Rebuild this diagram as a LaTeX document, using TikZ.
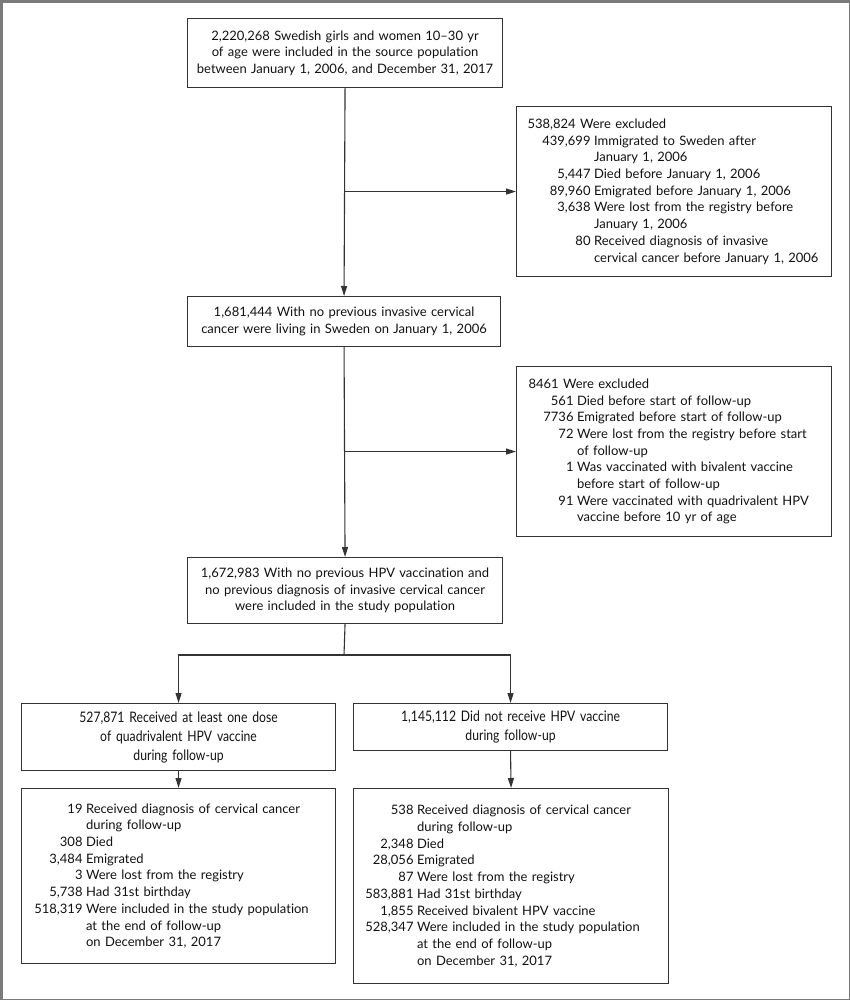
\documentclass[tikz,border=0pt]{standalone}
\usepackage{fontspec}
\setmainfont[Ligatures={NoCommon,TeX}]{Lato}
\newfontfamily\condfont[FakeStretch=0.84,Ligatures={NoCommon,TeX}]{Lato}
\usetikzlibrary{arrows.meta}
\definecolor{linec}{HTML}{333333}
\definecolor{framec}{HTML}{7A7A7A}
\definecolor{txtc}{HTML}{111111}
\newcommand\ent[3]{\mbox{\makebox[#1][r]{#2}\hspace{3.5pt}#3}}
\newcommand\cnt[2]{\mbox{\makebox[#1]{}\hspace{3.5pt}#2}}
\newcommand\mainfs{\fontsize{13}{16.7}\selectfont}
\newcommand\condfs{\condfont\fontsize{14.5}{19}\selectfont}
\begin{document}
\begin{tikzpicture}[x=1pt,y=-1pt,
  box/.style={draw=linec, line width=1.1pt, inner sep=0pt, anchor=north west,
    font=\mainfs, text=txtc},
  cbox/.style={box, align=center},
  lbox/.style={box, align=left},
  conn/.style={draw=linec, line width=1.1pt},
  arr/.style={conn, -{Triangle[length=10pt,width=6pt]}}]
\useasboundingbox (0,0) rectangle (850,1000);
\draw[framec, line width=1.5pt] (0.75,0.75) rectangle (849.25,999.25);
\draw[framec, line width=3pt] (0,1.5) -- (850,1.5);
\draw[framec, line width=3pt] (1.5,0) -- (1.5,1000);
% main column
\node[cbox, minimum width=315pt, minimum height=69pt, text width=300pt] (b1) at (187,18)
  {2,220,268 Swedish girls and women 10--30 yr\\of age were included in the source population\\between January 1, 2006, and December 31, 2017};
\node[cbox, minimum width=313pt, minimum height=50pt, text width=300pt] (b2) at (187,296)
  {1,681,444 With no previous invasive cervical\\cancer were living in Sweden on January 1, 2006};
\node[cbox, minimum width=315pt, minimum height=66pt, text width=300pt] (b3) at (187,557)
  {1,672,983 With no previous HPV vaccination and\\no previous diagnosis of invasive cervical cancer\\were included in the study population};
% exclusions
\node[lbox, minimum width=315pt, minimum height=170pt, text width=293pt] (e1) at (516,106)
  {\mbox{538,824 Were excluded}\\
   \ent{63pt}{439,699}{Immigrated to Sweden after}\\
   \cnt{63pt}{January 1, 2006}\\
   \ent{63pt}{5,447}{Died before January 1, 2006}\\
   \ent{63pt}{89,960}{Emigrated before January 1, 2006}\\
   \ent{63pt}{3,638}{Were lost from the registry before}\\
   \cnt{63pt}{January 1, 2006}\\
   \ent{63pt}{80}{Received diagnosis of invasive}\\
   \cnt{63pt}{cervical cancer before January 1, 2006}};
\node[lbox, minimum width=315pt, minimum height=170pt, text width=291pt] (e2) at (516,366)
  {\mbox{8461 Were excluded}\\
   \ent{45pt}{561}{Died before start of follow-up}\\
   \ent{45pt}{7736}{Emigrated before start of follow-up}\\
   \ent{45pt}{72}{Were lost from the registry before start}\\
   \cnt{45pt}{of follow-up}\\
   \ent{45pt}{1}{Was vaccinated with bivalent vaccine}\\
   \cnt{45pt}{before start of follow-up}\\
   \ent{45pt}{91}{Were vaccinated with quadrivalent HPV}\\
   \cnt{45pt}{vaccine before 10 yr of age}};
% groups
\node[cbox, font=\condfs, minimum width=314pt, minimum height=67pt, text width=300pt] (m1) at (21,703)
  {527,871 Received at least one dose\\of quadrivalent HPV vaccine\\during follow-up};
\node[cbox, font=\condfs, minimum width=314pt, minimum height=47pt, text width=300pt] (m2) at (353,703)
  {1,145,112 Did not receive HPV vaccine\\during follow-up};
% outcomes
\node[lbox, minimum width=314pt, minimum height=175pt, text width=290pt] (o1) at (21,788)
  {\ent{49pt}{19}{Received diagnosis of cervical cancer}\\
   \cnt{49pt}{during follow-up}\\
   \ent{49pt}{308}{Died}\\
   \ent{49pt}{3,484}{Emigrated}\\
   \ent{49pt}{3}{Were lost from the registry}\\
   \ent{49pt}{5,738}{Had 31st birthday}\\
   \ent{49pt}{518,319}{Were included in the study population}\\
   \cnt{49pt}{at the end of follow-up}\\
   \cnt{49pt}{on December 31, 2017}};
\node[lbox, minimum width=315pt, minimum height=195pt, text width=289pt] (o2) at (353,788)
  {\ent{47pt}{538}{Received diagnosis of cervical cancer}\\
   \cnt{47pt}{during follow-up}\\
   \ent{47pt}{2,348}{Died}\\
   \ent{47pt}{28,056}{Emigrated}\\
   \ent{47pt}{87}{Were lost from the registry}\\
   \ent{47pt}{583,881}{Had 31st birthday}\\
   \ent{47pt}{1,855}{Received bivalent HPV vaccine}\\
   \ent{47pt}{528,347}{Were included in the study population}\\
   \cnt{47pt}{at the end of follow-up}\\
   \cnt{47pt}{on December 31, 2017}};
% connectors
\draw[arr] (b1.south) -- (b2.north);
\draw[arr] (e1.west -| b1.south) -- (e1.west);
\draw[arr] (b2.south) -- (b3.north);
\draw[arr] (e2.west -| b2.south) -- (e2.west);
\coordinate (br) at (344,655);
\draw[conn] (b3.south) -- (br);
\draw[arr] (br) -| (m1.north);
\draw[arr] (br) -| (m2.north);
\draw[arr] (m1.south) -- (o1.north);
\draw[arr] (m2.south) -- (o2.north);
\end{tikzpicture}
\end{document}
